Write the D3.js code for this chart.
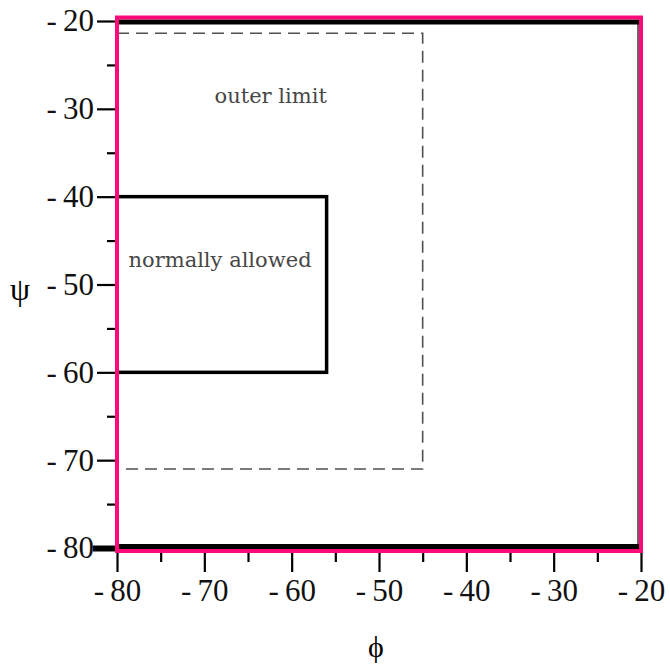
<!DOCTYPE html>
<html>
<head>
<meta charset="utf-8">
<script src="https://cdn.jsdelivr.net/npm/d3@7"></script>
<style>
  html, body { margin: 0; padding: 0; background: #fff; }
  svg { display: block; }
</style>
</head>
<body>
<svg id="chart" width="670" height="666"></svg>
<script>
// Ramachandran-style region limits (phi, psi in degrees)
const majorTicks = [-80, -70, -60, -50, -40, -30, -20];
const minorTicks = [-75, -65, -55, -45, -35, -25];
const phiDomain = [-80, -20];
const psiDomain = [-80, -20];
const outerPhi = [-80, -45];
const outerPsi = [-71, -21.4];
const allowedPhi = [-80, -56];
const allowedPsi = [-60, -40];
const regionLabels = ["outer limit", "normally allowed"];
const labelPhi = [-62.4, -68.2];
const labelPsi = [-28.5, -47.2];

const svg = d3.select("#chart");
const x = d3.scaleLinear().domain(phiDomain).range([117, 641]);
const y = d3.scaleLinear().domain(psiDomain).range([548, 21]);

const fmt = d => "-\u2009" + Math.abs(d);
const tickFont = "Liberation Serif, Times New Roman, serif";

// outer limit (dashed)
svg.append("rect")
  .attr("x", x(outerPhi[0])).attr("y", y(outerPsi[1]))
  .attr("width", x(outerPhi[1]) - x(outerPhi[0]))
  .attr("height", y(outerPsi[0]) - y(outerPsi[1]))
  .attr("fill", "none").attr("stroke", "#505050")
  .attr("stroke-width", 1.6).attr("stroke-dasharray", "12,7");

// normally allowed (solid)
svg.append("rect")
  .attr("x", x(allowedPhi[0])).attr("y", y(allowedPsi[1]))
  .attr("width", x(allowedPhi[1]) - x(allowedPhi[0]))
  .attr("height", y(allowedPsi[0]) - y(allowedPsi[1]))
  .attr("fill", "none").attr("stroke", "#000").attr("stroke-width", 3.5);

// region labels
svg.selectAll("text.region").data(regionLabels).join("text")
  .attr("class", "region")
  .attr("x", (d, i) => x(labelPhi[i]))
  .attr("y", (d, i) => y(labelPsi[i]))
  .attr("text-anchor", "middle")
  .attr("dominant-baseline", "central")
  .style("font-family", "'DejaVu Serif', serif")
  .style("font-size", "21px")
  .attr("fill", "#474747")
  .text(d => d);

// plot frame: heavy top and bottom, thin right
const frame = svg.append("g").attr("stroke", "#000").attr("fill", "none");
frame.append("line").attr("x1", x(-80)).attr("x2", x(-20)).attr("y1", y(-20) + 1).attr("y2", y(-20) + 1).attr("stroke-width", 5);
frame.append("line").attr("x1", x(-80)).attr("x2", x(-20)).attr("y1", y(-80) - 1.5).attr("y2", y(-80) - 1.5).attr("stroke-width", 5);
frame.append("line").attr("x1", x(-20) - 3).attr("x2", x(-20) - 3).attr("y1", y(-20)).attr("y2", y(-80)).attr("stroke-width", 1.2);

// axes
function styleAxis(g) {
  g.attr("font-family", null).attr("font-size", null);
  g.select(".domain").remove();
  g.selectAll(".tick line").attr("stroke", "#000").attr("stroke-width", 2.2);
  g.selectAll("text")
    .style("font-family", tickFont)
    .style("font-size", "31px")
    .attr("fill", "#111");
}

svg.append("g").attr("transform", `translate(0,${y(-80)})`)
  .call(d3.axisBottom(x).tickValues(minorTicks).tickSize(14).tickFormat(""))
  .call(styleAxis);
svg.append("g").attr("transform", `translate(0,${y(-80)})`)
  .call(d3.axisBottom(x).tickValues(majorTicks).tickSize(24).tickPadding(7).tickFormat(fmt))
  .call(styleAxis);

svg.append("g").attr("transform", `translate(${x(-80)},0)`)
  .call(d3.axisLeft(y).tickValues(minorTicks).tickSize(10).tickFormat(""))
  .call(styleAxis);
const yAx = svg.append("g").attr("transform", `translate(${x(-80)},0)`)
  .call(d3.axisLeft(y).tickValues(majorTicks).tickSize(20).tickPadding(3).tickFormat(fmt))
  .call(styleAxis);
yAx.selectAll(".tick").filter(d => d === -80).select("line")
  .attr("x2", -24).attr("stroke-width", 6);

// highlighted boundary
svg.append("rect")
  .attr("x", x(-80)).attr("y", y(-20) - 3.5)
  .attr("width", x(-20) - x(-80))
  .attr("height", y(-80) - y(-20) + 6.5)
  .attr("fill", "none").attr("stroke", "#ff0a78").attr("stroke-width", 4);

// axis titles
svg.append("text").attr("x", 20).attr("y", 289)
  .attr("text-anchor", "middle").attr("dominant-baseline", "central")
  .style("font-family", tickFont).style("font-size", "32px").attr("fill", "#000").text("ψ");
svg.append("text").attr("x", 376).attr("y", 646)
  .attr("text-anchor", "middle").attr("dominant-baseline", "central")
  .style("font-family", tickFont).style("font-size", "30px").attr("fill", "#000").text("ϕ");
</script>
</body>
</html>
